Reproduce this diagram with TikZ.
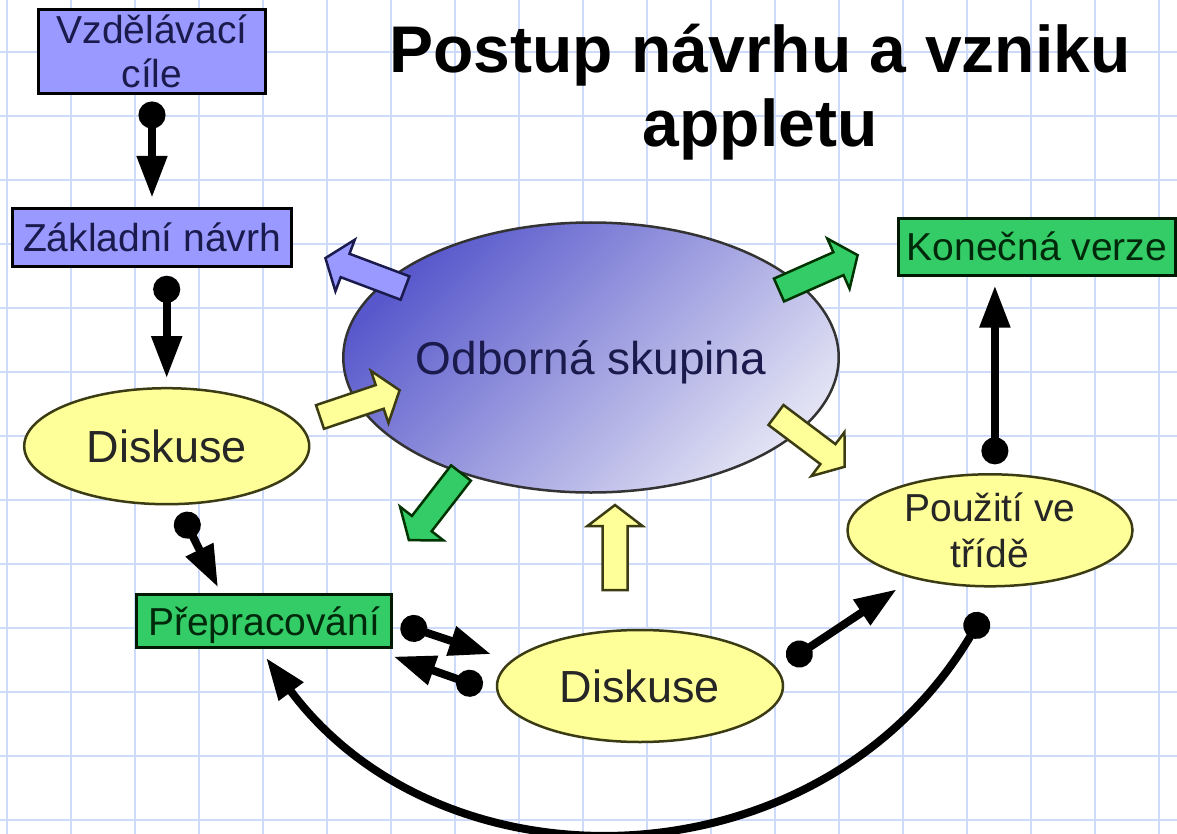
\documentclass[tikz,border=0pt]{standalone}
\usepackage{fontspec}
\setmainfont{Liberation Sans}
\usetikzlibrary{shapes.geometric,arrows.meta,calc}

\definecolor{gridblue}{RGB}{206,218,250}
\definecolor{boxblue}{RGB}{153,153,255}
\definecolor{boxgreen}{RGB}{51,204,102}
\definecolor{discyellow}{RGB}{255,255,153}
\definecolor{navytext}{RGB}{26,26,77}
\definecolor{greentext}{RGB}{0,40,10}
\definecolor{yellowline}{RGB}{60,60,20}
\definecolor{groupdark}{RGB}{88,88,204}
\definecolor{grouplight}{RGB}{226,226,244}

\tikzset{
  gridline/.style={gridblue, line width=2pt},
  bluebox/.style={rectangle, draw=black, line width=3pt, fill=boxblue, text=navytext,
    inner sep=0pt, outer sep=0pt, align=center, font=\fontsize{39}{44}\selectfont},
  greenbox/.style={rectangle, draw=black!90!green, line width=3pt, fill=boxgreen, text=greentext,
    inner sep=0pt, outer sep=0pt, align=center, font=\fontsize{39}{44}\selectfont},
  discussion/.style={ellipse, draw=yellowline, line width=2.5pt, fill=discyellow, text=black!85,
    inner sep=0pt, outer sep=0pt, align=center},
  pin/.style={line width=8pt, {Circle[length=27pt]}-{Triangle[length=42pt,width=29pt]}},
  fatblue/.style={fill=boxblue, draw=navytext, line width=2.5pt},
  fatgreen/.style={fill=boxgreen, draw=black!80!green, line width=2.5pt},
  fatyellow/.style={fill=discyellow, draw=yellowline, line width=2.5pt},
}

% block arrow: style, tail point, angle, length
\newcommand{\fatarrow}[4]{%
  \filldraw[#1, shift={#2}, rotate=#3]
    (0,-12.5) -- ({#4-21},-12.5) -- ({#4-21},-27.5) -- (#4,0)
    -- ({#4-21},27.5) -- ({#4-21},12.5) -- (0,12.5) -- cycle;}

\begin{document}
\begin{tikzpicture}[x=1pt, y=-1pt]
\useasboundingbox (0,0) rectangle (1177,834);
\fill[white] (0,0) rectangle (1177,834);

% grid paper
\foreach \gx in {7,71,...,1159}
  \draw[gridline] (\gx,0) -- (\gx,834);
\foreach \gy in {52,116,...,820}
  \draw[gridline] (0,\gy) -- (1177,\gy);

% title
\node[font=\fontsize{66}{74}\selectfont\bfseries, align=center] (title) at (760,92)
  {Postup návrhu a vzniku\\appletu};

% boxes
\node[bluebox, minimum width=227, minimum height=84] (vc) at (152,51.5) {Vzdělávací\\cíle};
\node[bluebox, minimum width=279, minimum height=58, text height=28pt, text depth=0pt] (zn) at (152,237.8) {Základní návrh};
\node[greenbox, minimum width=255, minimum height=53, text height=28pt, text depth=0pt] (pr) at (264,621) {Přepracování};
\node[greenbox, minimum width=277, minimum height=57, text height=28pt, text depth=0pt] (kv) at (1037,247) {Konečná verze};

% ellipses
\node[ellipse, draw=black!80, line width=2.5pt, top color=groupdark, bottom color=grouplight,
  shading angle=45, text=navytext, inner sep=0pt, outer sep=0pt,
  minimum width=376, minimum height=270, text height=33pt, text depth=0pt,
  font=\fontsize{46}{50}\selectfont] (ob) at (591,357.5) {Odborná skupina};
\node[discussion, minimum width=285, minimum height=116, text height=32pt, text depth=0pt,
  font=\fontsize{45}{50}\selectfont] (dl) at (166.7,446.2) {Diskuse};
\node[discussion, minimum width=286, minimum height=112, text height=32pt, text depth=0pt,
  font=\fontsize{45}{50}\selectfont] (db) at (640,686) {Diskuse};
\node[discussion, minimum width=285, minimum height=112,
  font=\fontsize{39}{46}\selectfont] (pu) at (990,530.3) {Použití ve\\třídě};

% block arrows around the group
\fatarrow{fatblue}{(405,288)}{159.4}{85}
\fatarrow{fatyellow}{(320,417)}{18.6}{84}
\fatarrow{fatgreen}{(779,290)}{23.9}{86}
\fatarrow{fatyellow}{(776,415)}{-37}{86}
\fatarrow{fatgreen}{(461,473)}{232.2}{85}
\fatarrow{fatyellow}{(615,590)}{90}{85}

% pin connectors
\draw[pin, shorten <=8pt, shorten >=11pt] (vc.south) -- (zn.north);
\draw[pin, shorten <=9pt, shorten >=10pt] (zn.south -| dl.north) -- (dl.north);
\draw[pin, shorten <=10pt, shorten >=8pt] (dl.-80) -- (pr.148);
\draw[pin, shorten <=10pt, shorten >=22pt] (pr.east) -- (db.169);
\draw[pin, shorten <=17pt] (db.183) -- ($(pr.south east)+(2,9)$);
\draw[pin, shorten <=14pt, shorten >=21pt] (db.7) -- (pu.212);
\draw[pin, shorten <=10pt, shorten >=10pt] (pu.85) -- (pu.85 |- kv.south);
\draw[pin, shorten <=32pt, shorten >=13pt] (pu.-80)
  .. controls +(-178,302) and +(186,250) .. (pr.-102);
\end{tikzpicture}
\end{document}
